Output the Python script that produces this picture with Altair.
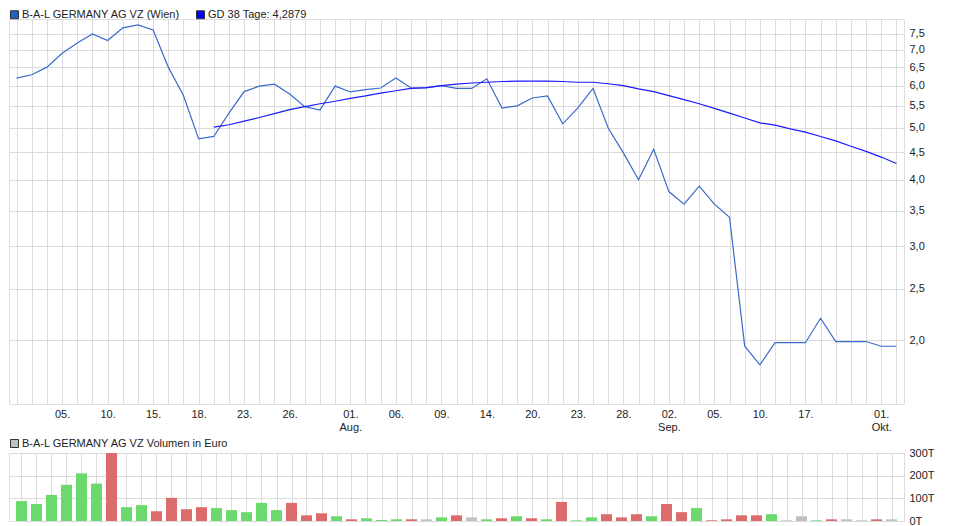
import altair as alt
import pandas as pd

# ---------------- data ----------------
price_name = "B-A-L GERMANY AG VZ (Wien)"
ma_name = "GD 38 Tage: 4,2879"
vol_name = "B-A-L GERMANY AG VZ Volumen in Euro"

price = [6.20, 6.29, 6.50, 6.90, 7.21, 7.50, 7.29, 7.70, 7.80, 7.63,
         6.50, 5.75, 4.77, 4.82, 5.33, 5.85, 5.99, 6.04, 5.79, 5.48,
         5.40, 5.99, 5.84, 5.90, 5.94, 6.20, 5.94, 5.94, 6.00, 5.93,
         5.93, 6.18, 5.45, 5.50, 5.69, 5.74, 5.09, 5.45, 5.93, 5.00,
         4.49, 4.00, 4.56, 3.80, 3.60, 3.89, 3.60, 3.40, 1.95, 1.80,
         1.98, 1.98, 1.98, 2.20, 1.99, 1.99, 1.99, 1.95, 1.95]

ma_start = 13
ma38 = [5.02, 5.07, 5.15, 5.23, 5.32, 5.41, 5.48, 5.55, 5.61, 5.68,
        5.74, 5.81, 5.87, 5.93, 5.95, 6.00, 6.04, 6.07, 6.09, 6.11,
        6.12, 6.12, 6.12, 6.11, 6.09, 6.09, 6.05, 6.00, 5.92, 5.85,
        5.75, 5.65, 5.55, 5.44, 5.33, 5.22, 5.11, 5.06, 4.98, 4.91,
        4.82, 4.73, 4.62, 4.52, 4.41, 4.29]

# volume in thousand euro (T)
volume = [88, 75, 115, 160, 210, 165, 300, 61, 70, 43,
          102, 52, 61, 57, 48, 39, 80, 48, 80, 25,
          34, 21, 7.5, 12, 4.5, 7.5, 7.5, 7.5, 16, 25,
          16, 7.5, 12, 21, 12, 7.5, 84, 3, 16, 30,
          16, 30, 21, 75, 39, 57, 3, 7.5, 25, 25,
          30, 3, 21, 3, 7.5, 7.5, 3, 7.5, 7.5]

# u = up (green), d = down (red), n = unchanged (grey)
direction = list("uuuuuuduud" "ddduuuuudd" "duduuudnud"
                 "nudududuud" "dduddudddd" "unnudnndn")

tick_index = [3, 6, 9, 12, 15, 18, 22, 25, 28, 31, 34, 37, 40, 43, 46, 49, 52, 57]
tick_text = ["05.", "10.", "15.", "18.", "23.", "26.", "01.|Aug.", "06.", "09.",
             "14.", "20.", "23.", "28.", "02.|Sep.", "05.", "10.", "17.", "01.|Okt."]

price_ticks = [2.0, 2.5, 3.0, 3.5, 4.0, 4.5, 5.0, 5.5, 6.0, 6.5, 7.0, 7.5]
volume_ticks = [0, 100, 200, 300]

# ---------------- tables ----------------
n = len(price)
idx = list(range(n))
dir_map = {"u": "up", "d": "down", "n": "flat"}
price_df = pd.DataFrame({"i": idx, "v": price})
ma_df = pd.DataFrame({"i": list(range(ma_start, ma_start + len(ma38))), "v": ma38})
vol_df = pd.DataFrame({"i": idx, "vol": volume, "dir": [dir_map[c] for c in direction]})
leg_top = pd.DataFrame({"s": [price_name, ma_name]})
leg_bot = pd.DataFrame({"s": [vol_name]})


def js(t):
    if "|" in t:
        a, b = t.split("|")
        return f"['{a}', '{b}']"
    return f"'{t}'"


label_expr = "''"
for i, t in reversed(list(zip(tick_index, tick_text))):
    label_expr = f"datum.value == {i} ? {js(t)} : ({label_expr})"

FONT = "Liberation Sans"
GRID = "#dcdcdc"
W = 895

x_scale = alt.Scale(domain=[-0.5, n - 0.5], nice=False, zero=False)

x_top = alt.X("i:Q", scale=x_scale, title=None,
              axis=alt.Axis(values=idx, labelExpr=label_expr, grid=True, gridColor=GRID,
                            ticks=False, tickSize=0, domain=False, labelPadding=4,
                            labelFont=FONT, labelFontSize=11, labelColor="#222",
                            labelLineHeight=13, labelOverlap=False, labelFlush=False))
y_top = alt.Y("v:Q", title=None,
              scale=alt.Scale(type="log", domain=[1.52, 8.0], nice=False),
              axis=alt.Axis(orient="right", values=price_ticks, grid=True, gridColor=GRID,
                            ticks=False, tickSize=0, domain=False, labelPadding=5,
                            labelExpr="replace(format(datum.value, '.1f'), '.', ',')",
                            labelFont=FONT, labelFontSize=11, labelColor="#222",
                            labelOverlap=False))

price_line = alt.Chart(price_df).mark_line(color="#3a6bcc", strokeWidth=1.2).encode(x=x_top, y=y_top)
ma_line = alt.Chart(ma_df).mark_line(color="#1a1aff", strokeWidth=1.2).encode(x=x_top, y=y_top)

legend_common = dict(title=None, orient="none", direction="horizontal",
                     symbolType="square", symbolSize=64, symbolStrokeColor="#333",
                     symbolStrokeWidth=1, symbolOpacity=1, labelFont=FONT,
                     labelFontSize=11, labelColor="#222", columnPadding=13, labelOffset=2,
                     labelLimit=0, padding=0)

top_legend = alt.Chart(leg_top).mark_square(opacity=0, size=64).encode(
    fill=alt.Fill("s:N", scale=alt.Scale(domain=[price_name, ma_name],
                                         range=["#2060c0", "#0000ff"]),
                  legend=alt.Legend(legendX=0, legendY=-10, **legend_common)))

top = alt.layer(price_line, ma_line, top_legend).properties(width=W, height=385)

x_bot = alt.X("i:Q", scale=x_scale, title=None,
              axis=alt.Axis(values=idx, labels=False, grid=True, gridColor=GRID,
                            ticks=False, domain=False))
bars = alt.Chart(vol_df).mark_bar(size=11).encode(
    x=x_bot,
    y=alt.Y("vol:Q", title=None,
            scale=alt.Scale(domain=[0, 300], nice=False),
            axis=alt.Axis(orient="right", values=volume_ticks, grid=True, gridColor=GRID,
                          ticks=False, tickSize=0, domain=False, labelPadding=5,
                          labelExpr="datum.value + 'T'", labelFont=FONT, labelFontSize=11,
                          labelColor="#222", labelOverlap=False)),
    color=alt.Color("dir:N", legend=None,
                    scale=alt.Scale(domain=["up", "down", "flat"],
                                    range=["#6cd96c", "#dc6b6b", "#c0c0c0"])))

bot_legend = alt.Chart(leg_bot).mark_square(opacity=0, size=64).encode(
    fill=alt.Fill("s:N", scale=alt.Scale(domain=[vol_name], range=["#c0c0c0"]),
                  legend=alt.Legend(legendX=0, legendY=-15, **legend_common)))

bottom = alt.layer(bars, bot_legend).properties(width=W, height=68)

chart = alt.vconcat(top, bottom, spacing=4).resolve_scale(
    fill="independent", color="independent"
).resolve_legend(fill="independent", color="independent").configure_view(
    stroke=GRID
).configure(padding=0, background="white")

chart.save("out.html", embed_options={"renderer": "svg", "actions": False})
